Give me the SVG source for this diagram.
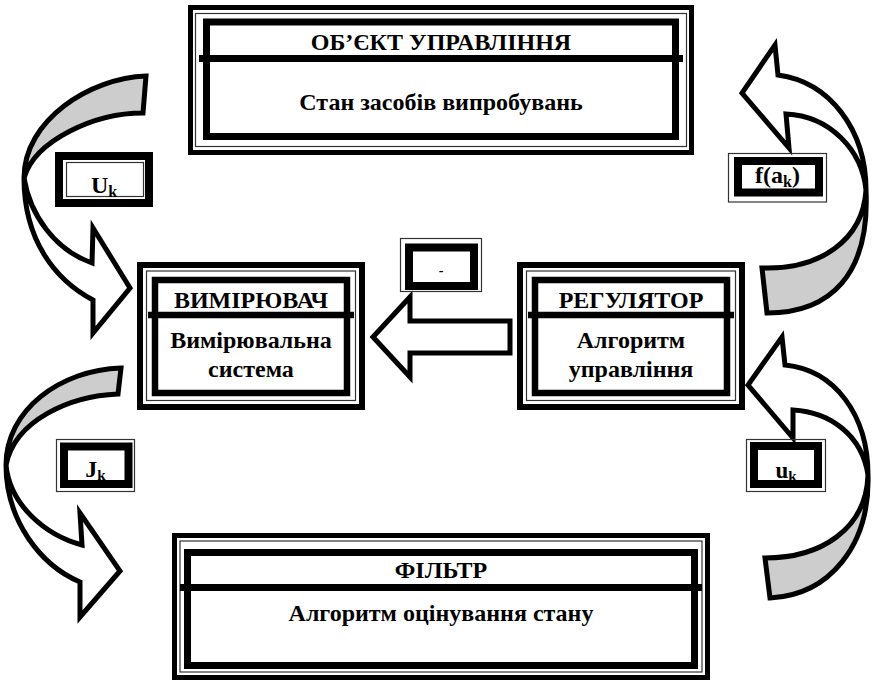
<svg xmlns="http://www.w3.org/2000/svg" width="872" height="682" viewBox="0 0 872 682">
<style>
.t{font-family:"Liberation Serif","Times New Roman",serif;font-weight:bold;font-size:24px;fill:#000;text-anchor:middle}
.o{fill:none;stroke:#000}
.thin{fill:none;stroke:#333;stroke-width:1.2}
.a{stroke:#000;stroke-width:5;stroke-linejoin:miter}
.g{fill:#cdcdcd}
.w{fill:#fff}
</style>
<rect width="872" height="682" fill="#fff"/>
<g id="connectors">
  <g id="arrow-top-left">
    <path class="a g" d="M146,76 C90,78 24,120 24,178 C35,140 95,113 143,113 Z"/>
    <path class="a w" d="M24,178 C24,240 55,280 93,300 L93,333 L130,288 L93,228 L92,263 C55,250 30,215 24,178 Z"/>
  </g>
  <g id="arrow-top-right">
    <path class="a g" d="M866,190 C870,275 830,313 767,313 L762,268 C820,270 863,240 866,190 Z"/>
    <path class="a w" d="M778,75 C830,82 866,130 866,190 C862,150 830,116 786,114 L789,148 L742,93 L775,45 Z"/>
  </g>
  <g id="arrow-bottom-left">
    <path class="a g" d="M121,368 C60,370 6,410 6,465 C15,420 70,396 118,394 Z"/>
    <path class="a w" d="M6,465 C6,520 40,565 80,582 L80,617 L120,571 L80,513 L82,545 C45,535 10,505 6,465 Z"/>
  </g>
  <g id="arrow-bottom-right">
    <path class="a g" d="M868,475 C870,545 830,595 770,598 L765,558 C820,558 866,530 868,475 Z"/>
    <path class="a w" d="M785,365 C835,370 868,415 868,475 C862,435 830,412 793,410 L793,438 L748,385 L782,337 Z"/>
  </g>
  <path id="arrow-middle" class="a w" d="M373,337 L410,297 L410,321 L510,321 L510,353 L410,353 L410,377 Z"/>
</g>
<g id="object">
  <rect class="o" x="190.5" y="7.5" width="501" height="145" stroke-width="5"/>
  <rect class="thin" x="195.5" y="13.5" width="491" height="133"/>
  <rect class="o" x="206.5" y="22" width="469" height="114.5" stroke-width="7"/>
  <line x1="199" y1="58.5" x2="683" y2="58.5" stroke="#000" stroke-width="7"/>
  <text class="t" x="441" y="50">ОБ’ЄКТ УПРАВЛІННЯ</text>
  <text class="t" x="441" y="110">Стан засобів випробувань</text>
</g>
<g id="measurer">
  <rect class="o" x="140" y="265" width="222" height="142" stroke-width="6"/>
  <rect class="thin" x="146.5" y="271" width="209" height="129.5"/>
  <rect class="o" x="155" y="280" width="192" height="113" stroke-width="6.5"/>
  <line x1="148" y1="315" x2="354" y2="315" stroke="#000" stroke-width="6.5"/>
  <text class="t" x="251" y="308">ВИМІРЮВАЧ</text>
  <text class="t" x="251" y="348">Вимірювальна</text>
  <text class="t" x="251" y="377">система</text>
</g>
<g id="regulator">
  <rect class="o" x="520" y="265" width="222" height="142" stroke-width="6"/>
  <rect class="thin" x="526.5" y="271" width="209" height="129.5"/>
  <rect class="o" x="535" y="280" width="192" height="113" stroke-width="6.5"/>
  <line x1="528" y1="315" x2="734" y2="315" stroke="#000" stroke-width="6.5"/>
  <text class="t" x="631" y="308">РЕГУЛЯТОР</text>
  <text class="t" x="631" y="348">Алгоритм</text>
  <text class="t" x="631" y="377">управління</text>
</g>
<g id="filter">
  <rect class="o" x="174.5" y="535.5" width="533" height="142" stroke-width="5"/>
  <rect class="thin" x="180" y="541" width="522" height="131"/>
  <rect class="o" x="187.5" y="552.5" width="507" height="113" stroke-width="7"/>
  <line x1="180" y1="587.5" x2="702" y2="587.5" stroke="#000" stroke-width="7"/>
  <text class="t" x="441" y="578">ФІЛЬТР</text>
  <text class="t" x="441" y="621">Алгоритм оцінування стану</text>
</g>
<g id="label-Uk">
  <rect class="o" x="59" y="156" width="90" height="47" stroke-width="8"/>
  <rect class="thin" x="66.5" y="162.5" width="77" height="34"/>
  <text class="t" x="104" y="193">U<tspan font-size="16" dy="4">k</tspan></text>
</g>
<g id="label-fak">
  <rect class="thin" x="728.5" y="153.5" width="98" height="48.5"/>
  <rect class="o" x="738" y="161" width="81" height="31.5" stroke-width="8"/>
  <text class="t" x="777.5" y="183">f(a<tspan font-size="16" dy="4">k</tspan><tspan dy="-4">)</tspan></text>
</g>
<g id="label-Jk">
  <rect class="thin" x="56.5" y="439.5" width="78" height="52"/>
  <rect class="o" x="64" y="446.5" width="64.5" height="37.5" stroke-width="8"/>
  <text class="t" x="95.5" y="477" font-size="22">J<tspan font-size="15" dy="3">k</tspan></text>
</g>
<g id="label-uk">
  <rect class="thin" x="746.5" y="439.5" width="79" height="52"/>
  <rect class="o" x="754" y="446" width="64" height="38" stroke-width="8"/>
  <text class="t" x="786" y="478" style="font-size:23px">u<tspan font-size="15" dy="3">k</tspan></text>
</g>
<g id="label-minus">
  <rect class="thin" x="400.5" y="238.5" width="81" height="53"/>
  <rect class="o" x="409" y="247.5" width="65" height="38.5" stroke-width="8"/>
  <text class="t" x="441" y="275" style="font-size:14px">-</text>
</g>
</svg>
